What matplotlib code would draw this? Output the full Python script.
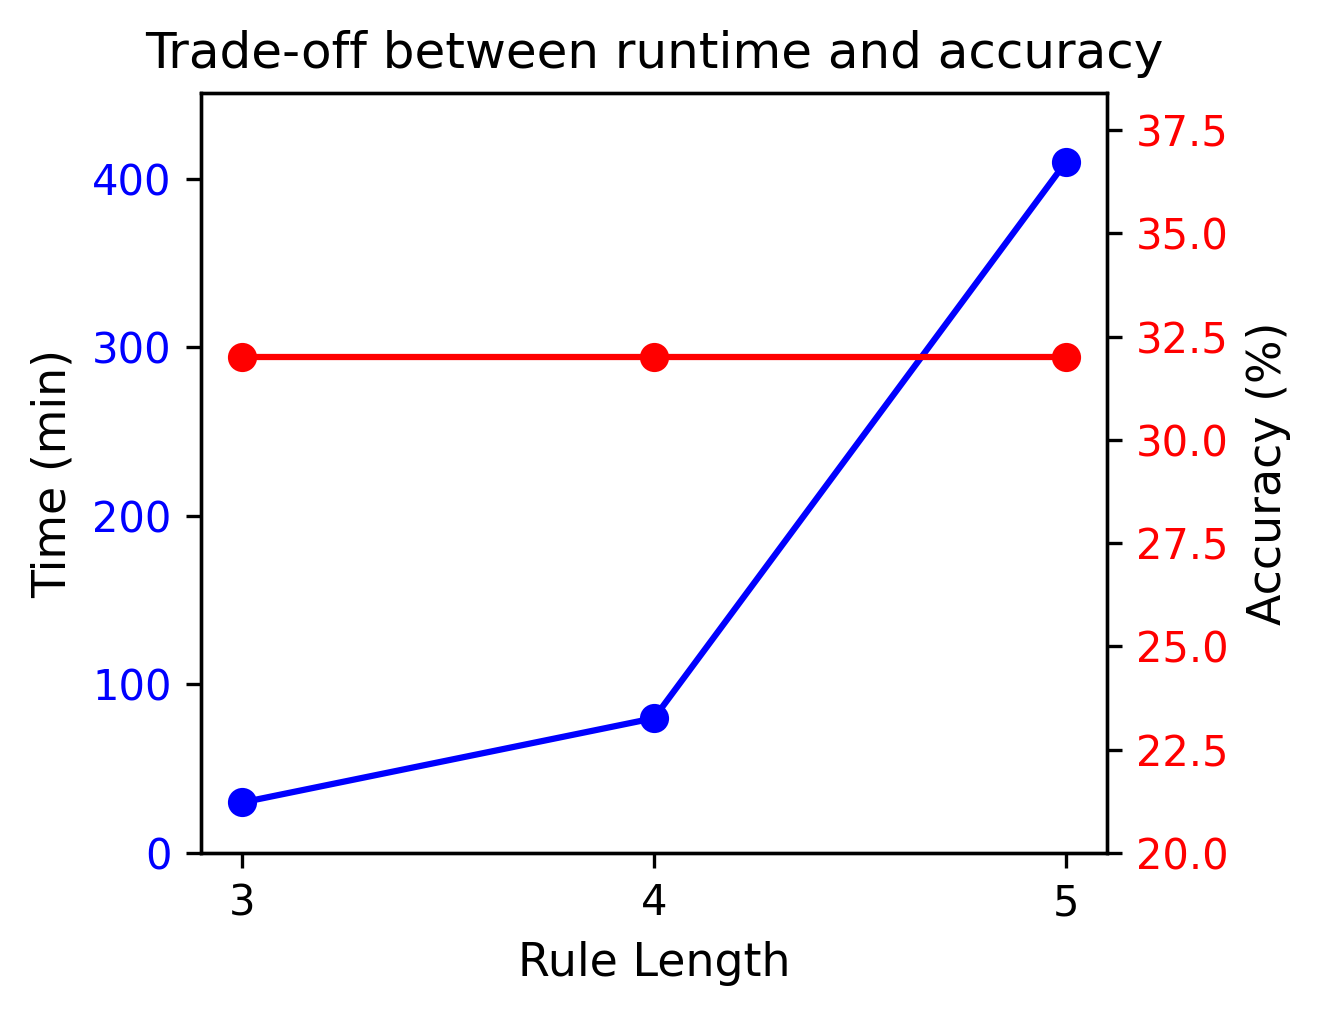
import matplotlib
matplotlib.use("Agg")
import matplotlib.pyplot as plt

rule_length = [3, 4, 5]
time_min = [30, 80, 410]
accuracy = [32, 32, 32]

fig = plt.figure(figsize=(1321/300, 1016/300), dpi=300)
ax = fig.add_axes([201/1321, 1 - 853/1016, (1107-201)/1321, (853-93)/1016])
ax.plot(rule_length, time_min, color='blue', marker='o', linewidth=1.5)
ax.set_ylim(0, max(time_min)*1.1)
ax.set_xticks(rule_length)
ax.set_xlabel('Rule Length', fontsize=11)
ax.set_ylabel('Time (min)', fontsize=11)
ax.tick_params(axis='y', labelcolor='blue', labelsize=10)
ax.tick_params(axis='x', labelsize=10)
ax.set_title('Trade-off between runtime and accuracy', fontsize=12)

ax2 = ax.twinx()
ax2.plot(rule_length, accuracy, color='red', marker='o', linewidth=1.5)
ax2.set_ylim(20, max(accuracy)*1.2)
ax2.set_ylabel('Accuracy (%)', fontsize=11)
ax2.tick_params(axis='y', labelcolor='red', labelsize=10)

fig.savefig('out.png', dpi=300)
